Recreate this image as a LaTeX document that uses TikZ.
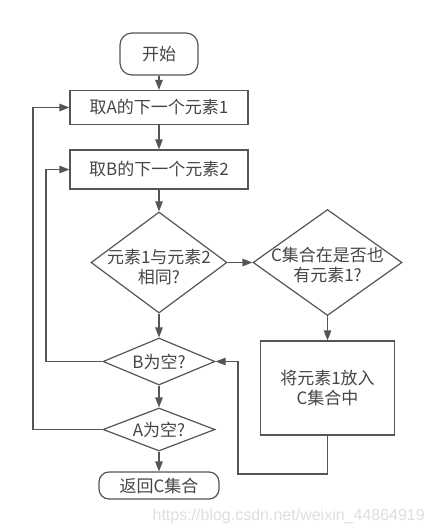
\documentclass[tikz,border=0pt]{standalone}
\usepackage{fontspec}
\usetikzlibrary{arrows.meta,shapes.geometric}
\newfontfamily\cjk{Noto Sans CJK SC}
\newfontfamily\urlfont{Liberation Sans}
\definecolor{lnc}{HTML}{555555}
\definecolor{txc}{HTML}{454545}
\tikzset{
	flow/.style={draw=lnc, line width=1.2pt, text=txc, font=\cjk\fontsize{17}{20}\selectfont, inner sep=0pt, align=center},
	procbox/.style={flow, rectangle},
	termbox/.style={flow, rectangle, rounded corners=12pt},
	decbox/.style={flow, diamond},
	txt/.style={text=txc, font=\cjk\fontsize{17}{20}\selectfont, inner sep=0pt, align=center},
	conn/.style={draw=lnc, line width=1.2pt, -{Triangle[length=10pt,width=7.5pt]}},
	wire/.style={draw=lnc, line width=1.2pt}
}

\begin{document}
\begin{tikzpicture}[x=1pt, y=-1pt]
		%%%%% START %%%%%
		\useasboundingbox (0, 0) rectangle (435, 531);
		
		\node[termbox, minimum width=78pt, minimum height=42pt] (start) at (159, 54) {开始};
		\node[procbox, minimum width=178pt, minimum height=34pt] (nextA) at (159, 107.5) {取A的下一个元素1};
		\node[procbox, minimum width=178pt, minimum height=39pt] (nextB) at (159, 169.5) {取B的下一个元素2};
		
		\node[decbox, minimum width=136pt, minimum height=101pt] (same) at (159, 262.5) {};
		\node[txt] (sameT) at ([yshift=-5pt]same.center) {元素1与元素2\\相同?};
		\node[decbox, minimum width=149pt, minimum height=106pt] (inC) at (327.5, 262.5) {};
		\node[txt] (inCT) at ([yshift=-3pt]inC.center) {C集合在是否也\\有元素1?};
		
		\node[procbox, minimum width=134pt, minimum height=94pt] (putC) at (327.5, 388) {将元素1放入\\C集合中};
		
		\node[decbox, minimum width=112pt, minimum height=47pt] (emptyB) at (159, 361.5) {};
		\node[txt] (emptyBT) at (emptyB.center) {B为空?};
		\node[decbox, minimum width=112pt, minimum height=43pt] (emptyA) at (159, 429.5) {};
		\node[txt] (emptyAT) at (emptyA.center) {A为空?};
		
		\node[termbox, rounded corners=10pt, minimum width=120pt, minimum height=27pt] (ret) at (159, 485.5) {返回C集合};
		
		% loop turning points
		\coordinate (loopA) at (33, 107.5);
		\coordinate (loopB) at (46, 169.5);
		\coordinate (backC) at (238, 474);
		
		\draw[conn] (start) -- (nextA);
		\draw[conn] (nextA) -- (nextB);
		\draw[conn] (nextB) -- (same);
		\draw[conn] (same.east) -- (inC.west);
		\draw[conn] (inC.south) -- (putC.north);
		\draw[conn] (same.south) -- (emptyB.north);
		\draw[conn] (emptyB.south) -- (emptyA.north);
		\draw[conn] (emptyA.south) -- (ret.north);
		
		\draw[conn] (emptyB.west) -| (loopB) -- (nextB.west);
		\draw[conn] (emptyA.west) -| (loopA) -- (nextA.west);
		\draw[conn] (putC.south) |- (backC) |- (emptyB.east);
		
		\node[text=black!13, font=\urlfont\fontsize{16}{18}\selectfont, anchor=base east, inner sep=0pt] (mark) at (425, 520) {https://blog.csdn.net/weixin\_44864919};
		%%%%% END %%%%%
\end{tikzpicture}
\end{document}
